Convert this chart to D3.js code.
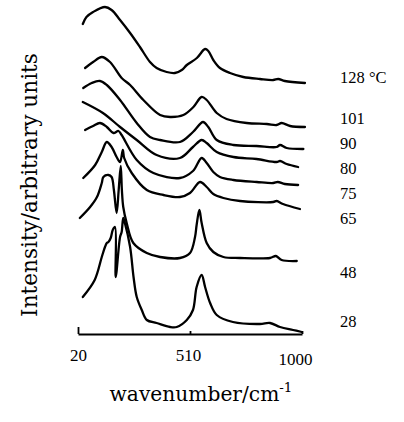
<!DOCTYPE html>
<html>
<head>
<meta charset="utf-8">
<script src="https://cdn.jsdelivr.net/npm/d3@7"></script>
<style>
  body { margin: 0; background: #fff; }
  svg text { fill: #000; }
</style>
</head>
<body>
<div id="chart"></div>
<script>
// Raman spectra: [wavenumber (cm-1), intensity (arb. units, stacked)]
const spec128 = [[41,310],[57,317],[86,322],[138,327],[167,324],[204,314],[248,301],[291,287],[335,272],[364,266],[408,262],[444,261],[474,264],[496,269],[540,276],[576,285],[590,283],[612,274],[641,266],[685,261],[743,257],[816,255],[874,254],[896,255],[925,253],[1013,251]];
const spec101 = [[51,266],[86,272],[124,277],[160,272],[211,256],[248,249],[306,234],[379,219],[423,217],[481,219],[525,227],[561,237],[583,234],[627,221],[670,215],[758,211],[846,210],[889,209],[911,211],[948,208],[1013,207]];
const spec90 = [[43,246],[80,251],[116,253],[146,249],[204,234],[277,211],[335,197],[379,194],[466,192],[523,202],[567,212],[590,207],[627,194],[700,189],[801,188],[889,187],[904,189],[933,186],[1006,185]];
const spec80 = [[41,232],[129,221],[204,207],[277,194],[364,179],[466,176],[523,187],[561,194],[583,191],[627,182],[700,177],[801,175],[889,172],[904,173],[933,170],[983,167]];
const spec75 = [[51,204],[86,208],[116,211],[146,207],[175,201],[197,203],[211,199],[277,174],[350,161],[466,156],[523,163],[561,176],[583,171],[612,162],[641,157],[700,154],[802,152],[874,151],[894,152],[925,150],[983,149]];
const spec65 = [[43,156],[95,169],[124,182],[146,192],[167,187],[189,177],[204,172],[216,184],[222,176],[255,161],[321,144],[394,139],[466,137],[510,141],[554,152],[583,147],[612,140],[656,136],[729,133],[874,132],[889,133],[917,130],[991,125]];
const spec48 = [[28,116],[73,127],[103,137],[124,151],[131,157],[153,159],[167,157],[177,144],[189,121],[198,144],[207,168],[212,144],[218,127],[233,111],[262,91],[321,81],[379,77],[466,76],[510,81],[532,97],[539,109],[551,124],[561,111],[583,91],[612,82],[656,77],[729,76],[860,76],[886,78],[911,74],[977,73]];
const spec28 = [[41,37],[93,54],[124,77],[138,87],[146,91],[153,92],[163,96],[172,104],[182,107],[185,57],[204,97],[211,102],[218,116],[225,111],[248,87],[263,57],[277,37],[299,24],[321,14],[364,11],[423,7],[452,7],[496,14],[523,24],[539,47],[561,59],[576,47],[598,31],[627,19],[698,12],[816,10],[860,11],[904,7],[961,4],[999,2]];

const temperatures = ["128 °C", "101", "90", "80", "75", "65", "48", "28"];
const spectra = [spec128, spec101, spec90, spec80, spec75, spec65, spec48, spec28];
const xTickValues = [20, 510, 1000];

// layout
const width = 404, height = 422;
const labelBaselines = [83, 124, 149, 174, 199, 224, 278, 327];

const svg = d3.select('#chart').append('svg')
  .attr('width', width)
  .attr('height', height);

const x = d3.scaleLinear().domain([20, 1000]).range([78, 302]);
const y = d3.scaleLinear().domain([0, 334]).range([334, 0]);

const line = d3.line()
  .x(d => x(d[0]))
  .y(d => y(d[1]))
  .curve(d3.curveCatmullRom.alpha(0.5));

svg.append('g')
  .selectAll('path')
  .data(spectra)
  .join('path')
    .attr('d', line)
    .attr('fill', 'none')
    .attr('stroke', '#000')
    .attr('stroke-width', 2.3)
    .attr('stroke-linejoin', 'round')
    .attr('stroke-linecap', 'round');

// x axis: ticks point up into the plot
const xAxis = d3.axisBottom(x)
  .tickValues(xTickValues)
  .tickSizeInner(-3)
  .tickSizeOuter(0)
  .tickPadding(15)
  .tickFormat(d3.format('d'));

const gx = svg.append('g')
  .attr('transform', `translate(0,${y(0)})`)
  .call(xAxis);

gx.select('.domain').attr('stroke-width', 2);
gx.selectAll('.tick line').attr('stroke-width', 1.8)
  .filter(d => d === 20).attr('y2', -7);
gx.selectAll('.tick text')
  .attr('font-family', '"Liberation Serif", serif')
  .attr('font-size', 17);
gx.selectAll('.tick text').filter(d => d === 510).attr('x', -2);
gx.selectAll('.tick text').filter(d => d === 1000).attr('x', -7).attr('y', 19);

// temperature labels
svg.append('g')
  .selectAll('text')
  .data(temperatures)
  .join('text')
    .attr('x', 340)
    .attr('y', (d, i) => labelBaselines[i])
    .attr('font-family', '"Liberation Serif", serif')
    .attr('font-size', 16.5)
    .attr('xml:space', 'preserve')
    .text(d => d);

// axis titles
const xTitle = svg.append('text')
  .attr('x', 201)
  .attr('y', 401)
  .attr('text-anchor', 'middle')
  .attr('font-family', '"DejaVu Serif", serif')
  .attr('font-size', 18);
xTitle.append('tspan').text('wavenumber/cm');
xTitle.append('tspan').attr('dy', -8).attr('font-size', 12).text('-1');

const yTitle = svg.append('text')
  .attr('transform', 'translate(37,185) rotate(-90)')
  .attr('text-anchor', 'middle')
  .attr('font-family', '"DejaVu Serif", serif')
  .attr('font-size', 18)
  .text('Intensity/arbitrary units');

// fit title widths to the figure
function fitWidth(sel, target) {
  const w = sel.node().getComputedTextLength();
  const fs = +sel.attr('font-size');
  sel.attr('font-size', fs * target / w);
}
fitWidth(yTitle, 264);
const xw = xTitle.node().getComputedTextLength();
const xs = 183 / xw;
xTitle.attr('font-size', 18 * xs);
xTitle.select('tspan:last-child').attr('font-size', 12 * xs).attr('dy', -8 * xs);
</script>
</body>
</html>
